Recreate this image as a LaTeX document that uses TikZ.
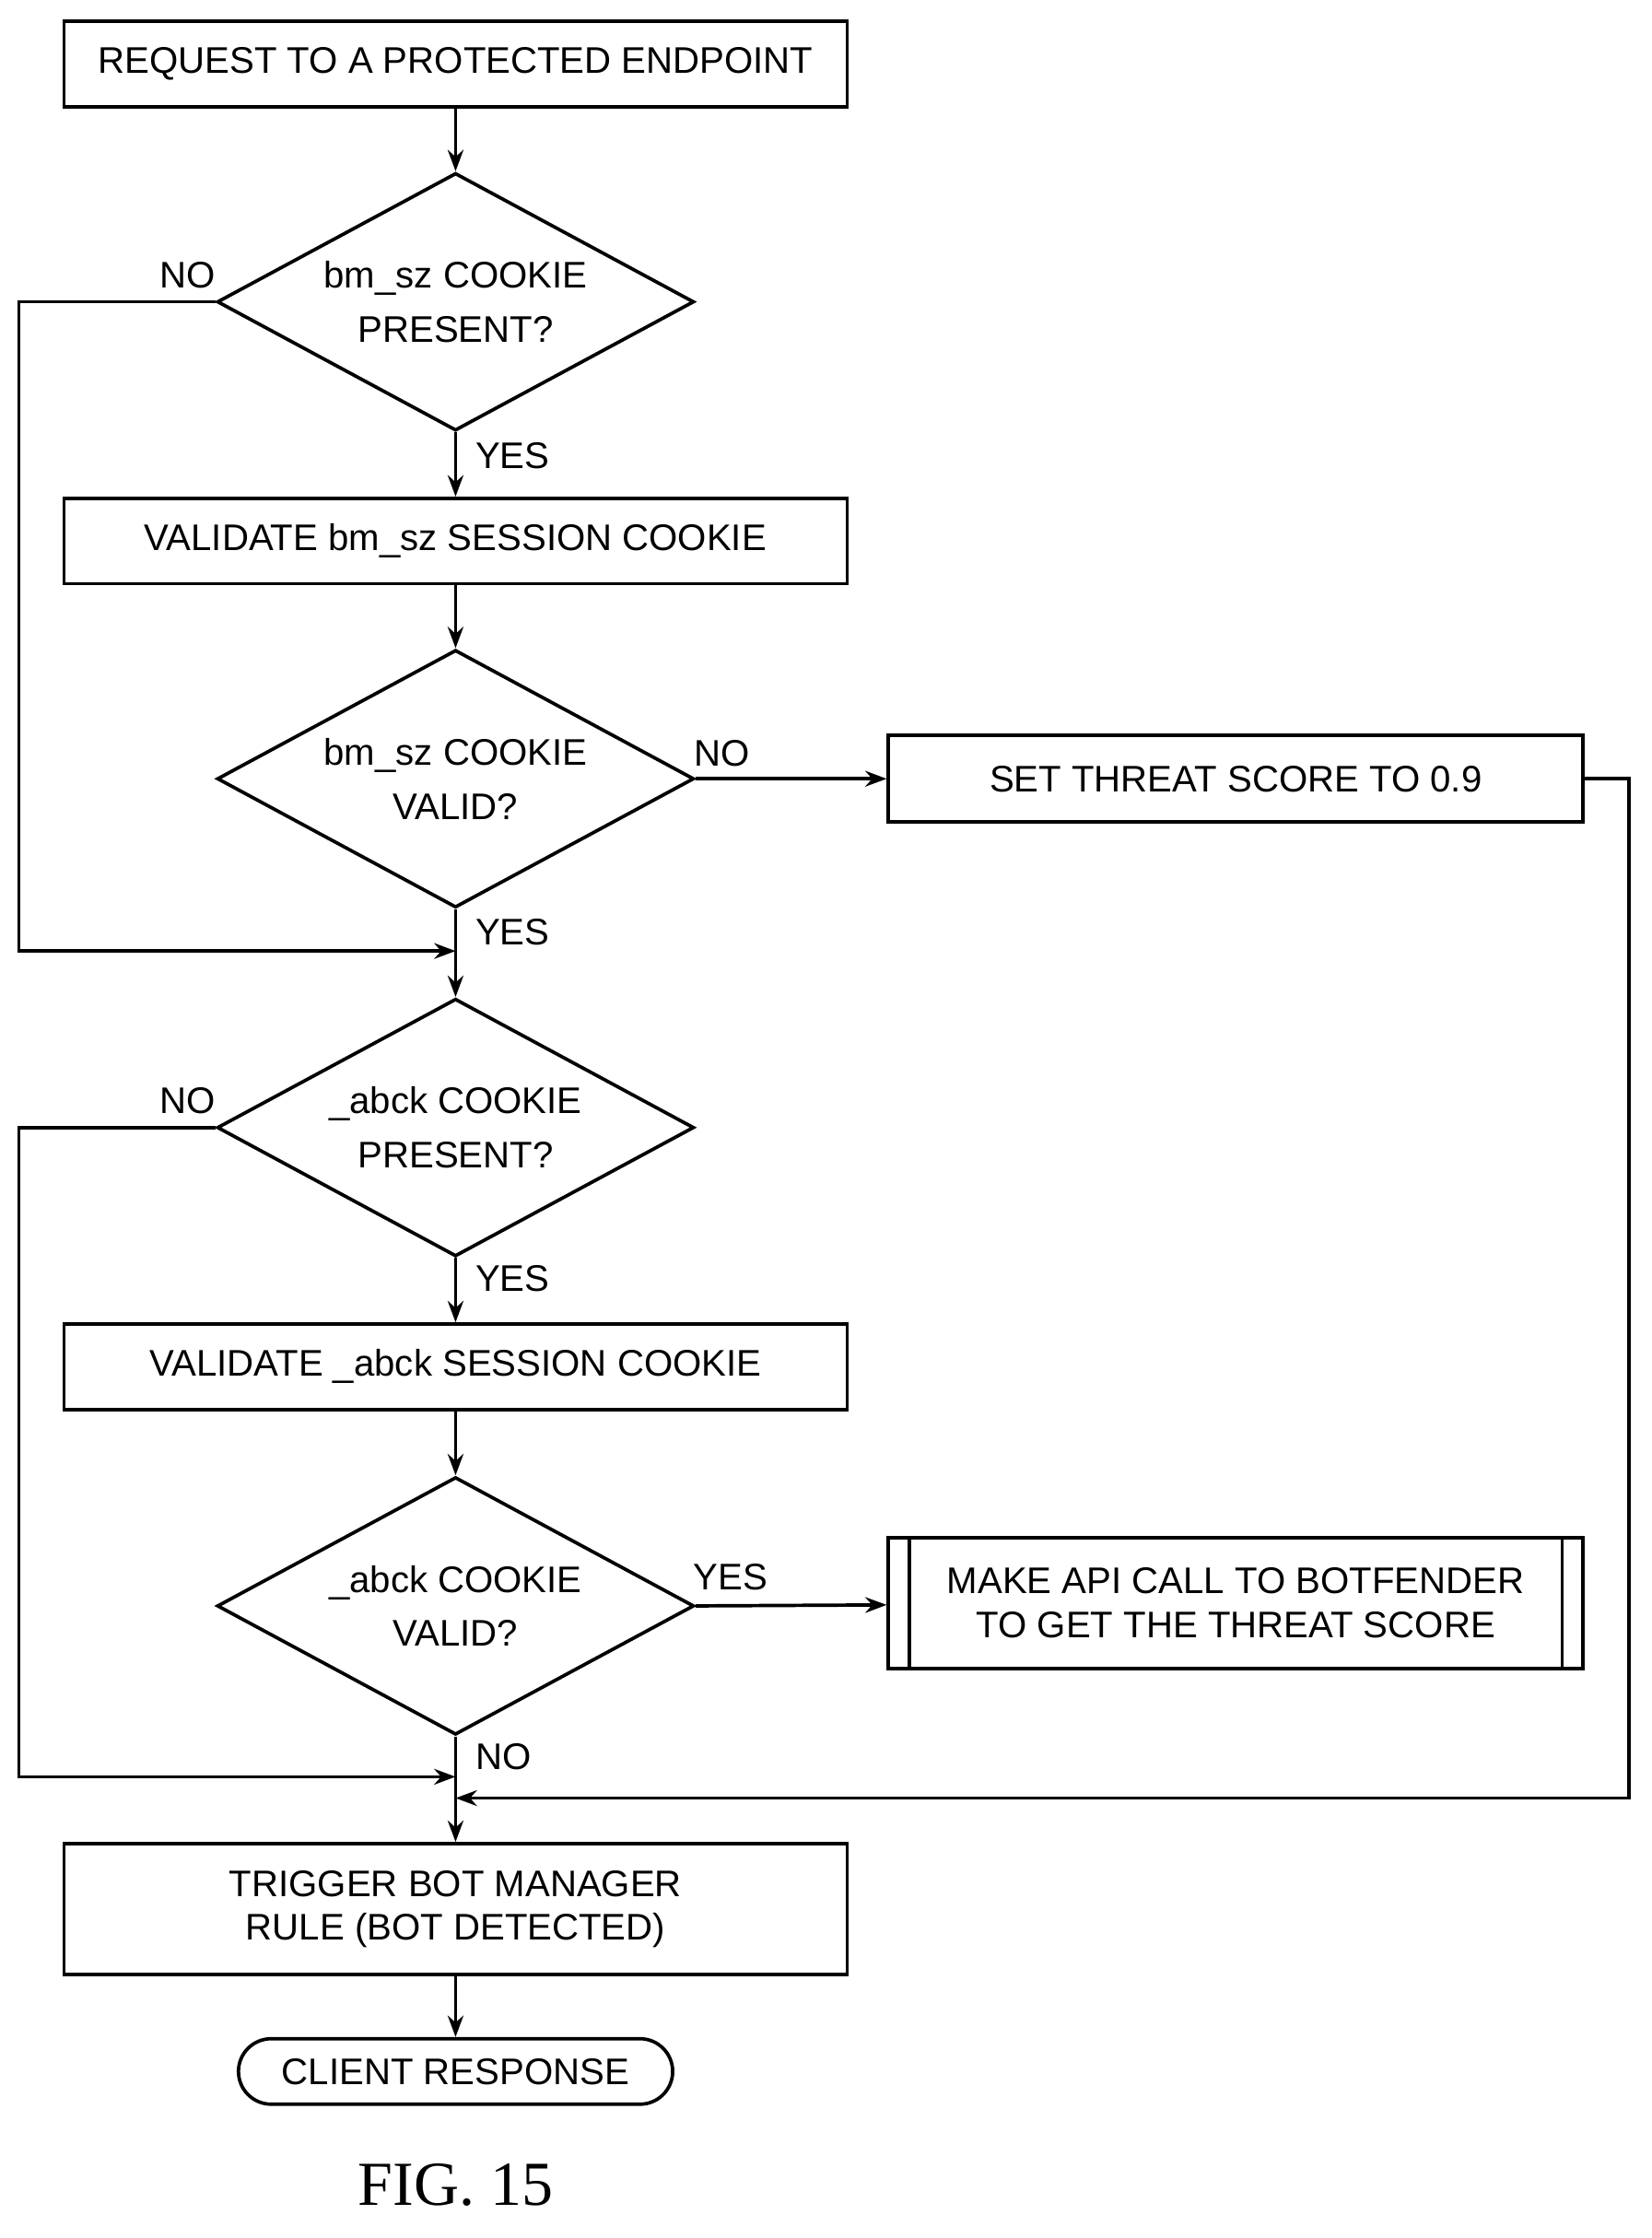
\documentclass[tikz,border=0pt]{standalone}
\usepackage{fontspec}
\setmainfont{Liberation Sans}
\usetikzlibrary{shapes.geometric,shapes.misc,arrows.meta}
\tikzset{every picture/.style={line width=2.4pt}}
\tikzset{
  box/.style={draw,rectangle,minimum width=550,minimum height=60,inner sep=0,font=\fontsize{26}{31}\selectfont,align=center},
  dec/.style={draw,diamond,aspect=1.86,minimum width=335,minimum height=181,inner sep=0,font=\fontsize{26}{38}\selectfont,align=center},
  lbl/.style={font=\fontsize{26}{31}\selectfont},
  flow/.style={-{Stealth[length=15pt,width=11pt]}}
}
\begin{document}
\begin{tikzpicture}[x=1pt,y=1pt,yscale=-1,xscale=1]
\useasboundingbox (0,0) rectangle (1160,1572);

%Shape: Rectangle [id:start]
\node[box] (req) at (320,45) {REQUEST TO A PROTECTED ENDPOINT};
%Shape: Diamond [id:bmpresent]
\node[dec] (bmp) at (320,212) {bm\_sz COOKIE\\PRESENT?};
%Shape: Rectangle [id:bmvalidate]
\node[box] (bmval) at (320,380) {VALIDATE bm\_sz SESSION COOKIE};
%Shape: Diamond [id:bmvalid]
\node[dec] (bmok) at (320,547) {bm\_sz COOKIE\\VALID?};
%Shape: Rectangle [id:threat]
\node[box,minimum width=488,minimum height=61] (score) at (868,547) {SET THREAT SCORE TO 0.9};
%Shape: Diamond [id:abpresent]
\node[dec] (abp) at (320,792) {\_abck COOKIE\\PRESENT?};
%Shape: Rectangle [id:abvalidate]
\node[box] (abval) at (320,960) {VALIDATE \_abck SESSION COOKIE};
%Shape: Diamond [id:abvalid]
\node[dec] (abok) at (320,1128) {\_abck COOKIE\\VALID?};
%Shape: Rectangle [id:apicall]
\node[box,minimum width=488,minimum height=92] (api) at (868,1126) {MAKE API CALL TO BOTFENDER\\TO GET THE THREAT SCORE};
\draw (api.north west) ++(16,0) -- ++(0,92);
\draw (api.north east) ++(-16,0) -- ++(0,92);
%Shape: Rectangle [id:trigger]
\node[box,minimum height=92] (bot) at (320,1341) {TRIGGER BOT MANAGER\\RULE (BOT DETECTED)};
%Shape: Terminal [id:client]
\node[draw,rounded rectangle,minimum width=305,minimum height=46,inner sep=0,font=\fontsize{26}{31}\selectfont] (resp) at (320,1455) {CLIENT RESPONSE};

%Joins
\coordinate (j1) at (320,668);
\coordinate (j2) at (320,1248);
\coordinate (j3) at (320,1263);

%Straight Lines
\draw[flow] (req) -- (bmp);
\draw[flow] (bmp) -- (bmval);
\draw[flow] (bmval) -- (bmok);
\draw[flow] (bmok) -- (abp);
\draw[flow] (bmok.east) -- (score);
\draw[flow] (abp) -- (abval);
\draw[flow] (abval) -- (abok);
\draw[flow] (abok.east) -- (api);
\draw[flow] (abok) -- (bot);
\draw[flow] (bot) -- (resp);
\draw[flow] (bmp.west) -- ++(-138,0) |- (j1);
\draw[flow] (abp.west) -- ++(-138,0) |- (j2);
\draw[flow] (score.east) -- ++(31,0) |- (j3);

% Text Node
\node[lbl] at (132,193) {NO};
\node[lbl] at (360,320) {YES};
\node[lbl] at (507,529) {NO};
\node[lbl] at (360,655) {YES};
\node[lbl] at (132,773) {NO};
\node[lbl] at (360,898) {YES};
\node[lbl] at (513,1108) {YES};
\node[lbl] at (354,1234) {NO};
\node[font=\fontspec{Liberation Serif}\fontsize{44}{50}\selectfont] (fig) at (320,1535) {FIG. 15};

\end{tikzpicture}
\end{document}
